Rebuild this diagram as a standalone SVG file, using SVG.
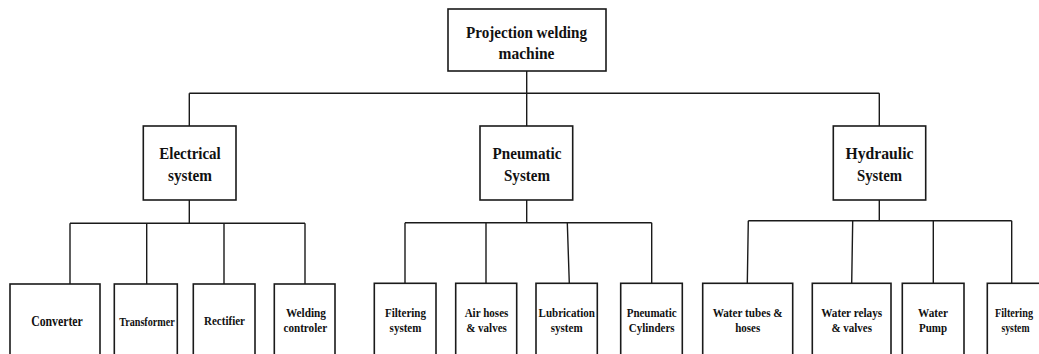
<svg xmlns="http://www.w3.org/2000/svg" width="1039" height="354" viewBox="0 0 1039 354">
<style>
.box{fill:#fff;stroke:#1a1a1a;stroke-width:1.6}
.ln{fill:none;stroke:#1a1a1a;stroke-width:1.4}
text{font-family:"Liberation Serif","Times New Roman",serif;font-weight:bold;fill:#111;text-anchor:middle}
.t1{font-size:17.5px}
.t2{font-size:17.5px}
.t3{font-size:13px}
.t4{font-size:14px}
.t5{font-size:12px}
</style>
<rect width="1039" height="354" fill="#fff"/>
<g id="connectors">
<path class="ln" d="M526.7 70.7V93.3M189.3 93.3H879.3M189.3 93.3V126M526.7 93.3V126M879.3 93.3V126"/>
<path class="ln" d="M189.3 200V223.3M70 223.3H305M70 223.3V284M146.7 223.3V284M224 223.3V284M305 223.3V284"/>
<path class="ln" d="M526.7 200V222.7M405 222.7H651.7M405 222.7V283.3M486 222.7V283.3M567.3 222.7L569.3 283.3M651.7 222.7V283.3"/>
<path class="ln" d="M879.3 200V220.7M748.3 220.7H1011.7M748.3 220.7L747.3 283.3M852.7 220.7L851.7 283.3M933.3 220.7V283.3M1011.7 220.7V283.3"/>
</g>
<g id="root">
<rect class="box" x="448" y="9" width="158" height="62"/>
<text class="t1" x="526.5" y="37.5" textLength="121" lengthAdjust="spacingAndGlyphs">Projection welding</text>
<text class="t1" x="526.5" y="59" textLength="56" lengthAdjust="spacingAndGlyphs">machine</text>
</g>
<g id="electrical">
<rect class="box" x="143.3" y="126" width="92.7" height="74"/>
<text class="t2" x="190" y="159" textLength="61.5" lengthAdjust="spacingAndGlyphs">Electrical</text>
<text class="t2" x="190" y="180.5" textLength="44" lengthAdjust="spacingAndGlyphs">system</text>
</g>
<g id="pneumatic">
<rect class="box" x="480" y="126" width="92.7" height="74"/>
<text class="t2" x="527" y="159" textLength="69" lengthAdjust="spacingAndGlyphs">Pneumatic</text>
<text class="t2" x="527" y="180.5" textLength="46" lengthAdjust="spacingAndGlyphs">System</text>
</g>
<g id="hydraulic">
<rect class="box" x="833.3" y="126" width="92.4" height="74"/>
<text class="t2" x="879.5" y="159" textLength="68" lengthAdjust="spacingAndGlyphs">Hydraulic</text>
<text class="t2" x="879.5" y="180.5" textLength="45" lengthAdjust="spacingAndGlyphs">System</text>
</g>
<g id="converter">
<rect class="box" x="10" y="284" width="90" height="80"/>
<text class="t4" x="57" y="326" textLength="51.7" lengthAdjust="spacingAndGlyphs">Converter</text>
</g>
<g id="transformer">
<rect class="box" x="114.3" y="284" width="63" height="80"/>
<text class="t5" x="147" y="325.5" textLength="55.7" lengthAdjust="spacingAndGlyphs">Transformer</text>
</g>
<g id="rectifier">
<rect class="box" x="193.3" y="284" width="61.7" height="80"/>
<text class="t3" x="224.5" y="324.5" textLength="41" lengthAdjust="spacingAndGlyphs">Rectifier</text>
</g>
<g id="welding-controler">
<rect class="box" x="274.3" y="284" width="60.7" height="80"/>
<text class="t3" x="306" y="317" textLength="40" lengthAdjust="spacingAndGlyphs">Welding</text>
<text class="t3" x="305.3" y="331.7" textLength="43.6" lengthAdjust="spacingAndGlyphs">controler</text>
</g>
<g id="filtering-pneumatic">
<rect class="box" x="374.3" y="283.3" width="61.7" height="80"/>
<text class="t3" x="405.5" y="316.7" textLength="41" lengthAdjust="spacingAndGlyphs">Filtering</text>
<text class="t3" x="405.5" y="331.7" textLength="31.8" lengthAdjust="spacingAndGlyphs">system</text>
</g>
<g id="air-hoses">
<rect class="box" x="455.7" y="283.3" width="61" height="80"/>
<text class="t3" x="486.5" y="316.7" textLength="43.7" lengthAdjust="spacingAndGlyphs">Air hoses</text>
<text class="t3" x="486.5" y="331.7" textLength="40.6" lengthAdjust="spacingAndGlyphs">&amp; valves</text>
</g>
<g id="lubrication">
<rect class="box" x="536" y="283.3" width="61.3" height="80"/>
<text class="t3" x="566.7" y="316.7" textLength="56.3" lengthAdjust="spacingAndGlyphs">Lubrication</text>
<text class="t3" x="566.7" y="331.7" textLength="31.8" lengthAdjust="spacingAndGlyphs">system</text>
</g>
<g id="pneumatic-cylinders">
<rect class="box" x="620.7" y="283.3" width="61.6" height="80"/>
<text class="t3" x="651.7" y="316.7" textLength="50" lengthAdjust="spacingAndGlyphs">Pneumatic</text>
<text class="t3" x="651.7" y="331.7" textLength="45.8" lengthAdjust="spacingAndGlyphs">Cylinders</text>
</g>
<g id="water-tubes">
<rect class="box" x="702.7" y="283.3" width="90" height="80"/>
<text class="t3" x="747.7" y="316.7" textLength="70" lengthAdjust="spacingAndGlyphs">Water tubes &amp;</text>
<text class="t3" x="747.7" y="332" textLength="25.1" lengthAdjust="spacingAndGlyphs">hoses</text>
</g>
<g id="water-relays">
<rect class="box" x="812.3" y="283.3" width="78.7" height="80"/>
<text class="t3" x="851.7" y="316.7" textLength="61" lengthAdjust="spacingAndGlyphs">Water relays</text>
<text class="t3" x="851.7" y="332" textLength="40.6" lengthAdjust="spacingAndGlyphs">&amp; valves</text>
</g>
<g id="water-pump">
<rect class="box" x="902.3" y="283.3" width="61.7" height="80"/>
<text class="t3" x="933" y="316.7" textLength="30" lengthAdjust="spacingAndGlyphs">Water</text>
<text class="t3" x="933" y="332" textLength="28.1" lengthAdjust="spacingAndGlyphs">Pump</text>
</g>
<g id="filtering-hydraulic">
<rect class="box" x="987.3" y="283.3" width="70" height="80"/>
<text class="t3" x="1014" y="316.7" textLength="38" lengthAdjust="spacingAndGlyphs">Filtering</text>
<text class="t3" x="1015.5" y="332" textLength="28" lengthAdjust="spacingAndGlyphs">system</text>
</g>
</svg>
